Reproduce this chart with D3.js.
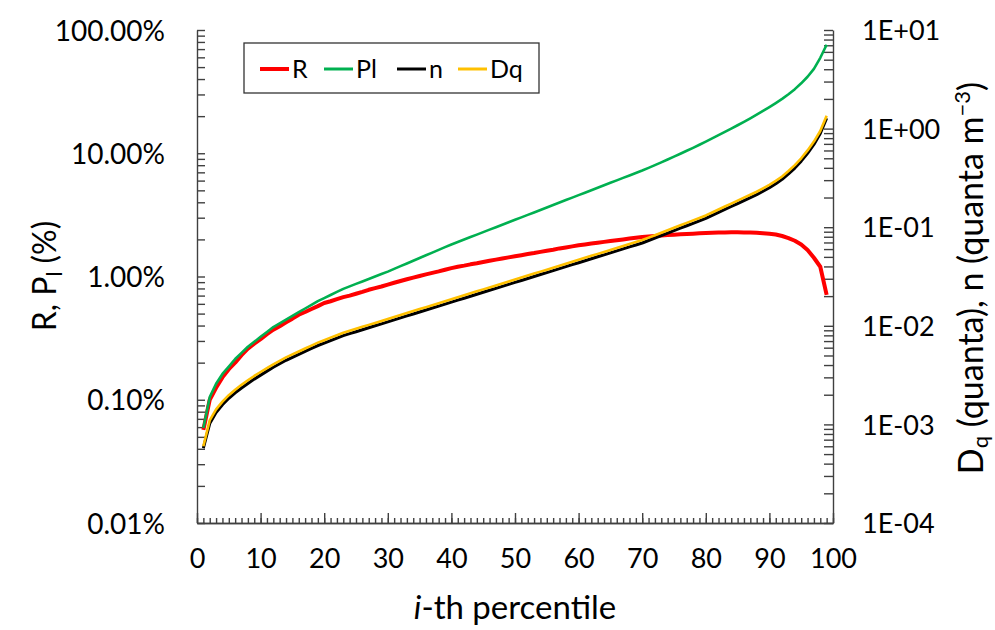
<!DOCTYPE html>
<html><head><meta charset="utf-8">
<script src="https://cdn.jsdelivr.net/npm/d3@7"></script>
<style>
body{margin:0;background:#fff}
text{font-family:Lato,"Open Sans",sans-serif;fill:#000}
</style>
</head><body>
<svg id="c" width="995" height="630"></svg>
<script>
// ---------------- data ----------------
const percentiles = d3.range(1, 100);   // i-th percentile, 1..99
// R (%) - left axis
const R = [0.057,0.100,0.125,0.152,0.177,0.200,0.230,0.260,0.285,0.310,
0.340,0.370,0.395,0.425,0.455,0.490,0.515,0.545,0.575,0.610,
0.630,0.655,0.680,0.700,0.725,0.750,0.780,0.805,0.830,0.860,
0.890,0.920,0.950,0.980,1.010,1.040,1.070,1.100,1.135,1.170,
1.200,1.225,1.255,1.280,1.310,1.340,1.370,1.400,1.430,1.460,
1.490,1.520,1.550,1.585,1.620,1.650,1.690,1.720,1.755,1.790,
1.820,1.850,1.880,1.910,1.940,1.970,2.000,2.030,2.060,2.090,
2.110,2.130,2.150,2.170,2.185,2.200,2.215,2.225,2.240,2.250,
2.260,2.270,2.280,2.285,2.285,2.280,2.270,2.260,2.245,2.225,
2.190,2.130,2.050,1.950,1.820,1.640,1.420,1.200,0.710];
// Pl (%) - left axis
const Pl = [0.059,0.105,0.135,0.162,0.186,0.214,0.240,0.269,0.295,0.324,
0.355,0.389,0.417,0.447,0.479,0.513,0.550,0.589,0.631,0.668,
0.708,0.750,0.794,0.832,0.871,0.912,0.955,1.000,1.047,1.096,
1.153,1.213,1.276,1.343,1.413,1.486,1.563,1.644,1.730,1.820,
1.905,1.995,2.089,2.188,2.291,2.399,2.512,2.630,2.754,2.884,
3.020,3.162,3.311,3.467,3.631,3.802,3.981,4.169,4.365,4.571,
4.786,5.012,5.248,5.495,5.754,6.026,6.310,6.607,6.918,7.244,
7.613,8.009,8.434,8.889,9.378,9.903,10.47,11.07,11.73,12.43,
13.19,14.01,14.89,15.84,16.87,17.98,19.21,20.55,22.03,23.68,
25.53,27.62,30.11,33.12,36.93,41.73,48.40,59.50,75.90];
// n (quanta m^-3) - right axis
const n = [5.75e-4,1.02e-3,1.32e-3,1.58e-3,1.84e-3,2.09e-3,2.34e-3,2.60e-3,2.88e-3,3.16e-3,
3.47e-3,3.80e-3,4.12e-3,4.47e-3,4.79e-3,5.13e-3,5.50e-3,5.89e-3,6.31e-3,6.68e-3,
7.08e-3,7.50e-3,7.94e-3,8.32e-3,8.71e-3,9.12e-3,9.55e-3,1.000e-2,1.047e-2,1.096e-2,
1.148e-2,1.202e-2,1.259e-2,1.318e-2,1.380e-2,1.445e-2,1.514e-2,1.585e-2,1.660e-2,1.738e-2,
1.820e-2,1.905e-2,1.995e-2,2.089e-2,2.188e-2,2.291e-2,2.399e-2,2.512e-2,2.630e-2,2.754e-2,
2.884e-2,3.020e-2,3.162e-2,3.311e-2,3.467e-2,3.631e-2,3.802e-2,3.981e-2,4.169e-2,4.365e-2,
4.571e-2,4.786e-2,5.012e-2,5.248e-2,5.495e-2,5.754e-2,6.026e-2,6.310e-2,6.607e-2,6.918e-2,
7.33e-2,7.76e-2,8.22e-2,8.71e-2,9.23e-2,9.77e-2,0.1035,0.1096,0.1161,0.1230,
0.1318,0.1413,0.1514,0.1622,0.1738,0.1862,0.1995,0.2138,0.2317,0.2512,
0.2754,0.3055,0.3467,0.3981,0.4677,0.5623,0.6918,0.8913,1.274];
// Dq (quanta) - right axis
const Dq = [6.0e-4,1.10e-3,1.42e-3,1.70e-3,1.98e-3,2.25e-3,2.52e-3,2.80e-3,3.10e-3,3.40e-3,
3.72e-3,4.07e-3,4.41e-3,4.78e-3,5.13e-3,5.49e-3,5.89e-3,6.30e-3,6.75e-3,7.15e-3,
7.58e-3,8.03e-3,8.50e-3,8.90e-3,9.32e-3,9.76e-3,1.022e-2,1.070e-2,1.120e-2,1.173e-2,
1.228e-2,1.286e-2,1.347e-2,1.410e-2,1.477e-2,1.546e-2,1.620e-2,1.696e-2,1.776e-2,1.860e-2,
1.947e-2,2.038e-2,2.135e-2,2.235e-2,2.341e-2,2.451e-2,2.567e-2,2.688e-2,2.814e-2,2.947e-2,
3.086e-2,3.231e-2,3.383e-2,3.543e-2,3.710e-2,3.885e-2,4.068e-2,4.260e-2,4.461e-2,4.671e-2,
4.891e-2,5.121e-2,5.363e-2,5.615e-2,5.880e-2,6.157e-2,6.448e-2,6.752e-2,7.069e-2,7.402e-2,
7.84e-2,8.30e-2,8.80e-2,9.32e-2,9.88e-2,0.1045,0.1107,0.1173,0.1242,0.1316,
0.1410,0.1512,0.1620,0.1736,0.1860,0.1992,0.2135,0.2288,0.2480,0.2690,
0.2950,0.3270,0.3710,0.4260,0.5000,0.6010,0.7390,0.9450,1.350];

const xTicks = [0,10,20,30,40,50,60,70,80,90,100];
const leftTicks = [0.01,0.1,1,10,100];
const leftTickLabels = ["0.01%","0.10%","1.00%","10.00%","100.00%"];
const rightTicks = [1e-4,1e-3,1e-2,1e-1,1,10];
const rightTickLabels = ["1E-04","1E-03","1E-02","1E-01","1E+00","1E+01"];
const seriesNames = ["R","Pl","n","Dq"];
const seriesColors = ["#FF0000","#00B050","#000000","#FFC000"];

// ---------------- drawing ----------------
const svg = d3.select("#c");
const L = 197, Rt = 833, T = 30, B = 523;
const x = d3.scaleLinear([0,100],[L,Rt]);
const yL = d3.scaleLog([0.01,100],[B,T]);
const yR = d3.scaleLog([1e-4,10],[B,T]);
const axisColor = "#404040";

function minorLog(dom){
  const out=[]; for(let e=Math.log10(dom[0]); e<Math.log10(dom[1]); e++){ for(let k=1;k<10;k++){ out.push(k*Math.pow(10,e)); } }
  out.push(dom[1]); return out;
}
function styleAxis(g){
  g.selectAll("path,line").attr("stroke",axisColor).attr("stroke-width",1.4);
  g.selectAll("text").style("font-family","Lato,'Open Sans',sans-serif").attr("fill","#000");
}
// left axis
const gL = svg.append("g").attr("transform",`translate(${L},0)`)
  .call(d3.axisLeft(yL).tickValues(minorLog([0.01,100])).tickSize(-8).tickSizeOuter(0).tickPadding(32)
    .tickFormat(d=>{const i=leftTicks.findIndex(t=>Math.abs(t-d)/t<1e-6); return i>=0?leftTickLabels[i]:"";}));
styleAxis(gL); gL.selectAll("text").attr("font-size",28).attr("dy","0.36em");
// right axis
const gR = svg.append("g").attr("transform",`translate(${Rt},0)`)
  .call(d3.axisRight(yR).tickValues(minorLog([1e-4,10])).tickSize(-9).tickSizeOuter(0).tickPadding(29)
    .tickFormat(d=>{const i=rightTicks.findIndex(t=>Math.abs(t-d)/t<1e-6); return i>=0?rightTickLabels[i]:"";}));
styleAxis(gR); gR.selectAll("text").attr("font-size",27).attr("dy","0.36em");
// bottom axis: minor + major
const gBm = svg.append("g").attr("transform",`translate(0,${B})`)
  .call(d3.axisBottom(x).tickValues(d3.range(0,101)).tickSize(-5).tickSizeOuter(0).tickFormat(""));
styleAxis(gBm);
const gB = svg.append("g").attr("transform",`translate(0,${B})`)
  .call(d3.axisBottom(x).tickValues(xTicks).tickSize(-10).tickSizeOuter(0).tickPadding(26).tickFormat(d3.format("d")));
styleAxis(gB); gB.selectAll("text").attr("font-size",27);

// lines
const data = [R,Pl,n,Dq];
const scales = [yL,yL,yR,yR];
const widths = [4,2.6,3,2.6];
data.forEach((s,i)=>{
  const line = d3.line().x((d,j)=>x(percentiles[j])).y(d=>scales[i](d));
  svg.append("path").datum(s).attr("d",line).attr("fill","none")
    .attr("stroke",seriesColors[i]).attr("stroke-width",widths[i]).attr("stroke-linejoin","round");
});

// legend
const lg = svg.append("g");
lg.append("rect").attr("x",244).attr("y",43).attr("width",295).attr("height",50)
  .attr("fill","#fff").attr("stroke","#333").attr("stroke-width",1.3);
const lx = [260,324,397,458];
seriesNames.forEach((nm,i)=>{
  lg.append("line").attr("x1",lx[i]).attr("x2",lx[i]+29).attr("y1",69).attr("y2",69)
    .attr("stroke",seriesColors[i]).attr("stroke-width",i===0?4:3);
  lg.append("text").attr("x",lx[i]+32).attr("y",69).attr("dy","0.36em").attr("font-size",25).text(nm);
});

// axis titles
const xt = svg.append("text").attr("x",515).attr("y",619).attr("text-anchor","middle").attr("font-size",33);
xt.append("tspan").attr("font-style","italic").text("i");
xt.append("tspan").text("-th percentile");

const lt = svg.append("text").attr("transform","translate(56,276) rotate(-90)").attr("text-anchor","middle").attr("font-size",32);
lt.append("tspan").text("R, P");
lt.append("tspan").attr("font-size",21).attr("dy",6).text("l");
lt.append("tspan").attr("dy",-6).text(" (%)");

const rt = svg.append("text").attr("transform","translate(983,278) rotate(-90)").attr("text-anchor","middle").attr("font-size",34);
rt.append("tspan").text("D");
rt.append("tspan").attr("font-size",22).attr("dy",5).text("q");
rt.append("tspan").attr("dy",-5).text(" (quanta), n (quanta m");
rt.append("tspan").attr("font-size",22).attr("dy",-13).text("−3");
rt.append("tspan").attr("dy",13).text(")");
</script>
</body></html>
